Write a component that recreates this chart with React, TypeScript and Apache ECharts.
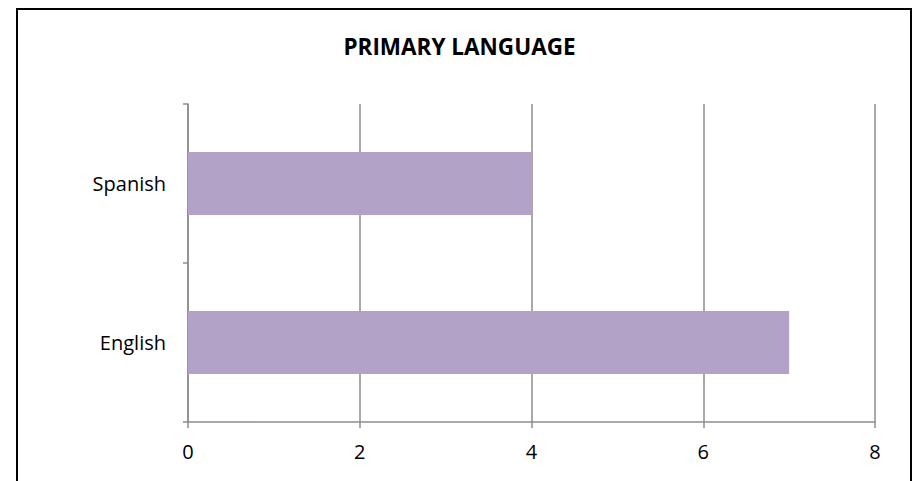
import React, { useEffect, useRef } from "react";
import * as echarts from "echarts";

const categories = ["English", "Spanish"];
const values = [7, 4];
const xTicks = [0, 2, 4, 6, 8];

export default function App() {
  const ref = useRef<HTMLDivElement>(null);
  useEffect(() => {
    document.body.style.margin = "0";
    const chart = echarts.init(ref.current!, null, { renderer: "svg" });
    chart.setOption({
      animation: false,
      backgroundColor: "#ffffff",
      title: {
        text: "PRIMARY LANGUAGE",
        left: "center",
        top: 30,
        textStyle: { fontFamily: "Open Sans", fontWeight: "bold", fontSize: 22.5, color: "#000" },
      },
      graphic: [
        {
          type: "rect",
          shape: { x: 17, y: 9, width: 894, height: 490 },
          style: { fill: "none", stroke: "#000", lineWidth: 2 },
          silent: true,
        },
      ],
      grid: { left: 188, right: 44, top: 104, bottom: 59 },
      xAxis: {
        type: "value",
        min: xTicks[0],
        max: xTicks[xTicks.length - 1],
        interval: 2,
        axisLine: { show: true, lineStyle: { color: "#8c8c8c", width: 1.5 } },
        axisTick: { show: true, length: 6, lineStyle: { color: "#8c8c8c", width: 1.5 } },
        splitLine: { show: true, lineStyle: { color: "#8c8c8c", width: 1.5 } },
        axisLabel: { fontFamily: "Open Sans", fontSize: 20, color: "#000", margin: 19 },
      },
      yAxis: {
        type: "category",
        data: categories,
        axisLine: { show: true, lineStyle: { color: "#8c8c8c", width: 1.5 } },
        axisTick: { show: true, length: 5, lineStyle: { color: "#8c8c8c", width: 1.5 } },
        axisLabel: { fontFamily: "Open Sans", fontSize: 20, color: "#000", margin: 22 },
      },
      series: [
        {
          type: "bar",
          data: values,
          barWidth: 63,
          itemStyle: { color: "#b3a2c7" },
        },
      ],
    });
    return () => chart.dispose();
  }, []);
  return <div ref={ref} style={{ width: 919, height: 481 }} />;
}
